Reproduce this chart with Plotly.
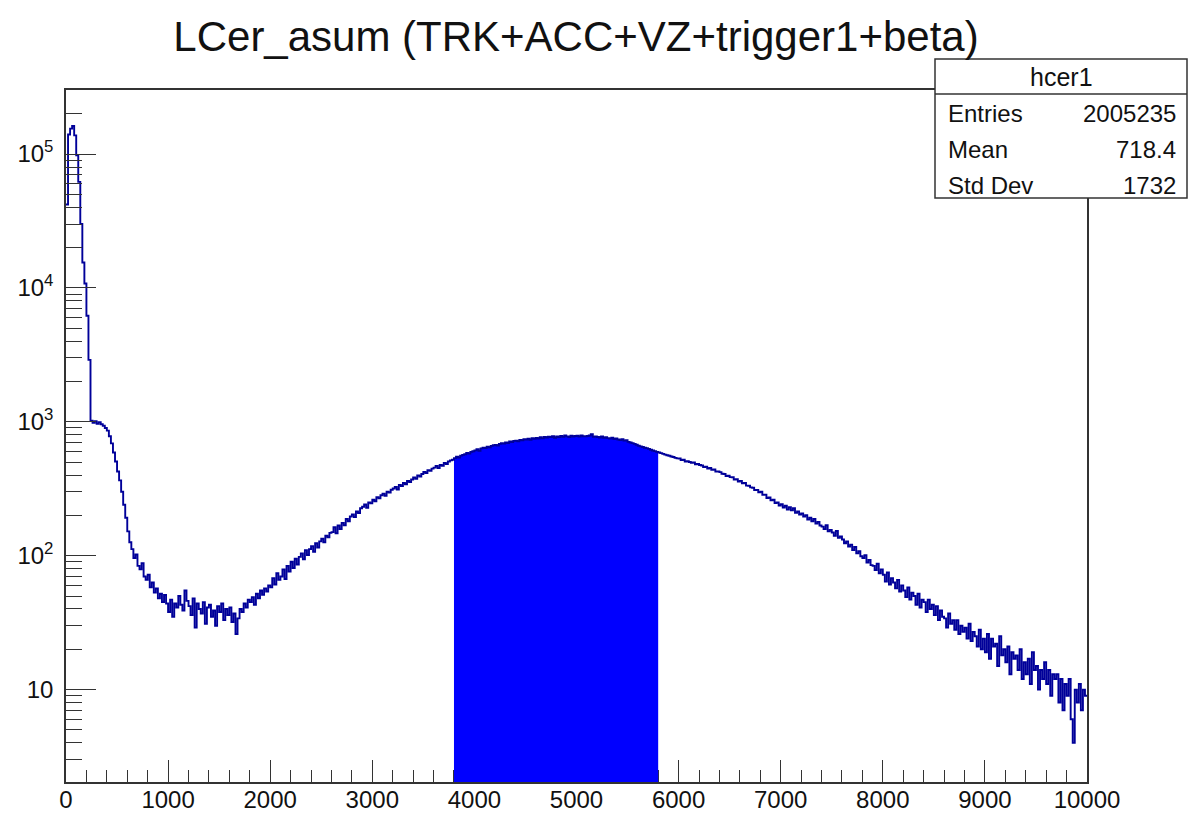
import numpy as np
import plotly.graph_objects as go

# ---------------- data (bin width 20, range 0..10000) ----------------
bin_width = 20
x_min, x_max = 0, 10000

counts_0k = [42000, 140000, 155000, 162000, 138000, 98000, 62000, 30000, 15500, 10800,
             6200, 2900, 1020, 985, 1010, 965, 995, 960, 935, 900,
             860, 780, 690, 590, 505, 425, 365, 300, 240, 192,
             152, 126, 112, 96, 102, 84, 79, 88, 70, 66,
             72, 58, 63, 53, 57, 48, 52, 45, 51, 44]
counts_1k = [38, 47, 35, 44, 41, 50, 43, 39, 55, 46,
             42, 36, 48, 29, 44, 40, 37, 45, 31, 41,
             43, 35, 39, 30, 42, 38, 44, 33, 40, 36,
             41, 32, 37, 26, 34, 40, 38, 44, 41, 47,
             45, 49, 43, 52, 48, 55, 51, 57, 54, 60]
counts_2k = [58, 68, 61, 74, 66, 70, 79, 67, 84, 76,
             90, 81, 95, 86, 98, 104, 94, 110, 101, 112,
             118, 107, 124, 115, 128, 134, 126, 141, 137, 148,
             150, 163, 147, 168, 158, 176, 169, 188, 181, 196,
             203, 194, 214, 208, 226, 232, 241, 228, 250, 246]
counts_3k = [262, 255, 274, 268, 283, 291, 280, 300, 296, 311,
             318, 326, 312, 338, 331, 349, 342, 362, 355, 371,
             384, 376, 398, 390, 408, 422, 415, 436, 430, 447,
             455, 468, 451, 476, 470, 492, 484, 505, 515, 521,
             536, 548, 541, 559, 566, 572, 585, 579, 596, 603]
counts_4k = [612, 624, 608, 633, 641, 638, 652, 646, 661, 668,
             672, 665, 684, 691, 687, 702, 694, 712, 706, 720,
             724, 716, 733, 729, 741, 738, 749, 735, 756, 746,
             758, 750, 767, 752, 770, 763, 775, 768, 781, 760,
             776, 769, 785, 772, 790, 779, 771, 788, 776, 784]
counts_5k = [786, 775, 792, 781, 778, 783, 790, 808, 774, 779,
             771, 764, 778, 760, 767, 756, 749, 761, 744, 752,
             738, 730, 742, 724, 729, 708, 700, 693, 684, 674,
             662, 655, 648, 641, 636, 628, 619, 611, 604, 596,
             590, 584, 576, 569, 563, 558, 551, 546, 538, 533]
counts_6k = [532, 518, 521, 505, 509, 501, 495, 497, 482, 484,
             476, 472, 459, 463, 448, 452, 438, 440, 425, 426,
             421, 409, 408, 394, 396, 386, 385, 371, 372, 358,
             362, 348, 350, 334, 333, 324, 322, 309, 310, 297,
             300, 285, 286, 270, 272, 259, 262, 247, 250, 237]
counts_7k = [243, 229, 236, 221, 230, 218, 226, 209, 214, 203,
             207, 196, 201, 186, 192, 181, 188, 174, 179, 168,
             165, 158, 169, 152, 156, 149, 141, 153, 136, 139,
             132, 124, 128, 117, 121, 110, 116, 104, 108, 99,
             96, 101, 89, 93, 85, 84, 78, 87, 74, 79]
counts_8k = [72, 64, 75, 61, 68, 63, 57, 66, 54, 60,
             55, 49, 58, 47, 53, 50, 43, 52, 41, 47,
             45, 38, 47, 40, 43, 36, 42, 33, 39, 35,
             34, 29, 37, 31, 33, 28, 33, 26, 30, 27,
             29, 24, 31, 23, 27, 25, 21, 28, 20, 24]
counts_9k = [19, 26, 17, 24, 21, 22, 15, 25, 18, 20,
             16, 21, 13, 19, 17, 18, 14, 20, 12, 16,
             13, 17, 11, 19, 14, 15, 10, 14, 12, 16,
             11, 14, 9, 13, 12, 13, 8, 12, 7, 11,
             9, 12, 6, 4, 10, 8, 11, 7, 10, 9]

fill_lo, fill_hi = 3800, 5800
fill_base = 1e-3  # below the visible log range: fill reaches the frame bottom

title_text = "LCer_asum (TRK+ACC+VZ+trigger1+beta)"
stats_name = "hcer1"
stats_rows = [("Entries", "2005235"), ("Mean", "718.4"), ("Std Dev", "1732")]

y_tickvals = [10, 100, 1000, 10000, 100000]
y_ticktext = ["10", "10<sup>2</sup>", "10<sup>3</sup>", "10<sup>4</sup>", "10<sup>5</sup>"]

# ---------------- build ----------------
counts = np.array(counts_0k + counts_1k + counts_2k + counts_3k + counts_4k +
                  counts_5k + counts_6k + counts_7k + counts_8k + counts_9k, dtype=float)
edges = np.arange(x_min, x_max + bin_width, bin_width)
centers = edges[:-1] + bin_width / 2

W, H = 1189, 813
L, R, T, B = 66, 102, 90, 31
PW, PH = W - L - R, H - T - B


def px(xp):
    return (xp - L) / PW


def py(yp):
    return (H - B - yp) / PH


FONT = "Liberation Sans, Arial, Helvetica, sans-serif"
LINE_COL = "#000099"
FILL_COL = "#0000ff"
AX_COL = "#333333"

fig = go.Figure()

# filled region (3800..5800) as a closed step polygon down to the frame bottom
sel = (centers > fill_lo) & (centers < fill_hi)
f_edges = edges[:-1][sel]
f_counts = counts[sel]
poly_x = [f_edges[0]]
poly_y = [fill_base]
for e, c in zip(f_edges, f_counts):
    poly_x += [e, e + bin_width]
    poly_y += [c, c]
poly_x += [f_edges[-1] + bin_width]
poly_y += [fill_base]
fig.add_trace(go.Scatter(x=poly_x, y=poly_y, mode="lines", fill="toself",
                         fillcolor=FILL_COL, line=dict(color=FILL_COL, width=0),
                         hoverinfo="skip"))

fig.add_trace(go.Scatter(x=edges, y=np.append(counts, counts[-1]), mode="lines",
                         line=dict(color=LINE_COL, width=1.9, shape="hv")))

minor_y = [m * 10 ** d for d in range(0, 6) for m in range(2, 10)]

fig.update_layout(
    width=W, height=H,
    margin=dict(l=L, r=R, t=T, b=B, autoexpand=False),
    paper_bgcolor="white", plot_bgcolor="white",
    showlegend=False,
    font=dict(family=FONT, color="#111111"),
    title=dict(text=title_text, x=px(576), xref="paper", xanchor="center",
               y=1 - 36 / H, yref="container", yanchor="middle",
               font=dict(family=FONT, size=42, color="#111111")),
    xaxis=dict(range=[x_min, x_max], showgrid=False, zeroline=False,
               showline=True, mirror=True, linecolor=AX_COL, linewidth=1.5,
               ticks="inside", ticklen=22, tickwidth=1.2, tickcolor=AX_COL,
               dtick=1000, tick0=0, tickformat="d", ticklabelstandoff=-5,
               layer="below traces",
               tickfont=dict(size=24, color="#111111"),
               minor=dict(dtick=200, tick0=0, ticks="inside", ticklen=12,
                          tickwidth=1.2, tickcolor=AX_COL, showgrid=False)),
    yaxis=dict(type="log", range=[np.log10(2.04), np.log10(301000)],
               showgrid=False, zeroline=False,
               showline=True, mirror=True, linecolor=AX_COL, linewidth=1.5,
               ticks="inside", ticklen=30, tickwidth=1.2, tickcolor=AX_COL,
               tickvals=y_tickvals, ticktext=y_ticktext,
               tickfont=dict(size=24, color="#111111"), ticklabelstandoff=6,
               minor=dict(tickvals=minor_y, ticks="inside", ticklen=16,
                          tickwidth=1.2, tickcolor=AX_COL, showgrid=False)),
)

# stats box
bx0, bx1, by0, by1, bsep = 935, 1187, 59, 198, 94
fig.add_shape(type="rect", xref="paper", yref="paper",
              x0=px(bx0), x1=px(bx1), y0=py(by1), y1=py(by0),
              fillcolor="white", line=dict(color=AX_COL, width=1.5), layer="above")
fig.add_shape(type="line", xref="paper", yref="paper",
              x0=px(bx0), x1=px(bx1), y0=py(bsep), y1=py(bsep),
              line=dict(color=AX_COL, width=1.5), layer="above")
fig.add_annotation(text=stats_name, xref="paper", yref="paper",
                   x=px((bx0 + bx1) / 2), y=py(77), xanchor="center", yanchor="middle",
                   showarrow=False, font=dict(family=FONT, size=25, color="#111111"))
for i, (lab, val) in enumerate(stats_rows):
    yc = 114 + i * 35.5
    fig.add_annotation(text=lab, xref="paper", yref="paper", x=px(946), y=py(yc),
                       xanchor="left", yanchor="middle", showarrow=False,
                       font=dict(family=FONT, size=24, color="#111111"))
    fig.add_annotation(text=val, xref="paper", yref="paper", x=px(1178), y=py(yc),
                       xanchor="right", yanchor="middle", showarrow=False,
                       font=dict(family=FONT, size=24, color="#111111"))

fig.write_html("out.html")
